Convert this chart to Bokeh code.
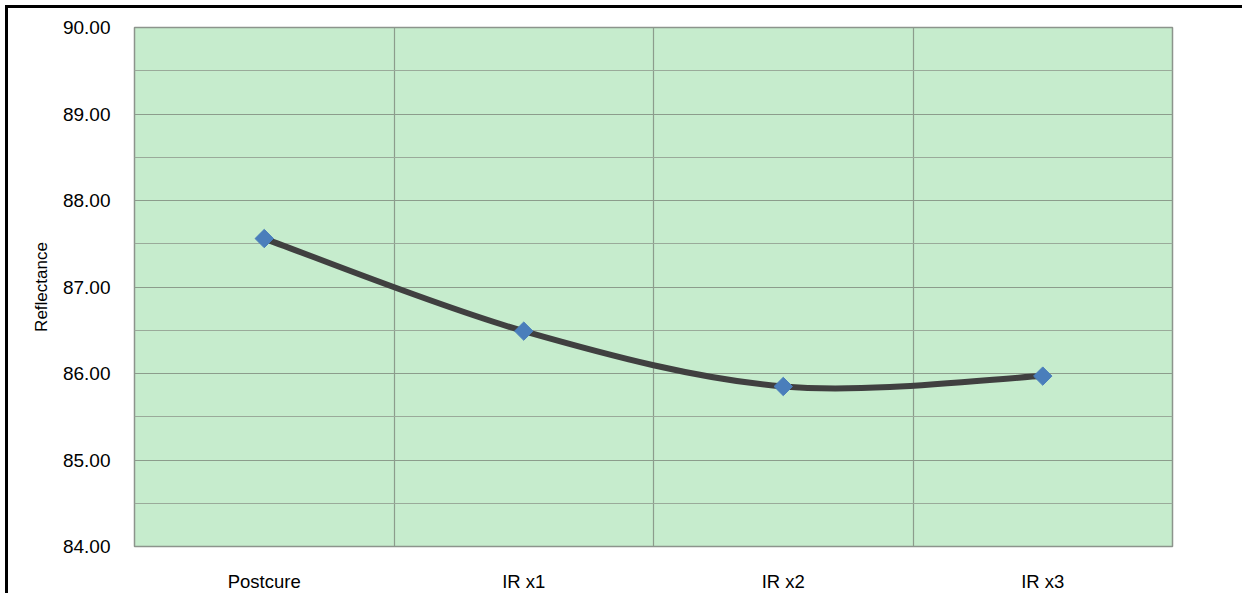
from bokeh.plotting import figure
from bokeh.embed import file_html
from bokeh.resources import INLINE
from bokeh.models import FixedTicker, NumeralTickFormatter, ColumnDataSource, Range1d

# ---- data ----
categories = ["Postcure", "IR x1", "IR x2", "IR x3"]
reflectance = [87.56, 86.49, 85.85, 85.97]
y_major_ticks = [84, 85, 86, 87, 88, 89, 90]
y_minor_ticks = [84.5, 85.5, 86.5, 87.5, 88.5, 89.5]

n = len(categories)
xs = [i + 0.5 for i in range(n)]

# smoothed line (Excel-like cubic Bezier through the points)
x0, y0, x1, y1, cx0, cy0, cx1, cy1 = [], [], [], [], [], [], [], []
for i in range(n - 1):
    pa = (xs[max(i - 1, 0)], reflectance[max(i - 1, 0)])
    p1 = (xs[i], reflectance[i])
    p2 = (xs[i + 1], reflectance[i + 1])
    pb = (xs[min(i + 2, n - 1)], reflectance[min(i + 2, n - 1)])
    x0.append(p1[0]); y0.append(p1[1])
    x1.append(p2[0]); y1.append(p2[1])
    cx0.append(p1[0] + (p2[0] - pa[0]) / 6.0)
    cy0.append(p1[1] + (p2[1] - pa[1]) / 6.0)
    cx1.append(p2[0] - (pb[0] - p1[0]) / 6.0)
    cy1.append(p2[1] - (pb[1] - p1[1]) / 6.0)

W, H = 1237, 588
p = figure(width=W, height=H, output_backend="svg", toolbar_location=None,
           x_range=Range1d(0, n), y_range=Range1d(84, 90),
           min_border_left=126, min_border_top=19,
           min_border_right=W - 1164, min_border_bottom=H - 538,
           styles={"border-top": "3px solid black", "border-left": "3px solid black",
                   "margin-top": "5px", "margin-left": "5px"})

p.background_fill_color = "#C6ECCD"
p.border_fill_color = "white"
p.outline_line_color = "#8C948C"
p.outline_line_width = 1.5

# axes
p.yaxis.ticker = FixedTicker(ticks=y_major_ticks, minor_ticks=y_minor_ticks)
p.yaxis.formatter = NumeralTickFormatter(format="0.00")
p.xaxis.ticker = FixedTicker(ticks=xs)
p.xaxis.major_label_overrides = {x: c for x, c in zip(xs, categories)}

for ax in (p.xaxis, p.yaxis):
    ax.axis_line_color = None
    ax.major_tick_line_color = None
    ax.minor_tick_line_color = None
    ax.major_label_text_font = "Liberation Sans"
    ax.major_label_text_color = "black"

p.yaxis.major_label_text_font_size = "19px"
p.yaxis.major_label_standoff = 18
p.yaxis.axis_label = "Reflectance"
p.yaxis.axis_label_text_font = "Liberation Sans"
p.yaxis.axis_label_text_font_style = "normal"
p.yaxis.axis_label_text_font_size = "17px"
p.yaxis.axis_label_text_color = "black"
p.yaxis.axis_label_standoff = 9
p.xaxis.major_label_text_font_size = "18.5px"
p.xaxis.major_label_standoff = 18

# grids
p.ygrid.ticker = FixedTicker(ticks=y_major_ticks, minor_ticks=y_minor_ticks)
p.ygrid.grid_line_color = "#8C9C8C"
p.ygrid.grid_line_width = 1.2
p.ygrid.minor_grid_line_color = "#9AAA9A"
p.ygrid.minor_grid_line_width = 1.2
p.xgrid.ticker = FixedTicker(ticks=list(range(1, n)))
p.xgrid.grid_line_color = "#8C9C8C"
p.xgrid.grid_line_width = 1.2

# smoothed line
bsrc = ColumnDataSource(dict(x0=x0, y0=y0, x1=x1, y1=y1, cx0=cx0, cy0=cy0, cx1=cx1, cy1=cy1))
p.bezier(x0="x0", y0="y0", x1="x1", y1="y1", cx0="cx0", cy0="cy0", cx1="cx1", cy1="cy1",
         source=bsrc, line_color="#404040", line_width=6, line_cap="round")

# markers (square diamonds)
p.scatter(xs, reflectance, marker="square", angle=0.7853981634, size=13,
          fill_color="#4A7EBB", line_color="#4A7EBB", line_width=1)

open("out.html", "w").write(file_html(p, INLINE))
